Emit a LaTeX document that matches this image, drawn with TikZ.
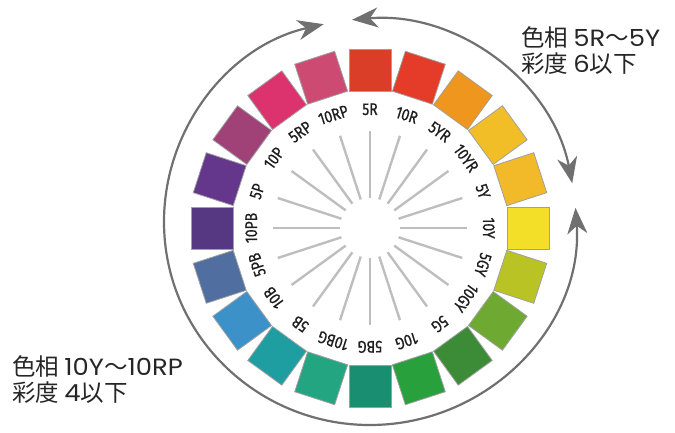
\documentclass[tikz,border=0pt]{standalone}
\usepackage{fontspec}
\usepackage{tikz}
\usetikzlibrary{arrows.meta}
\newfontfamily\jpfont{Noto Sans CJK JP}
\newfontfamily\latfont[FakeStretch=1.1]{Poppins}
\newfontfamily\huefont[FakeStretch=0.82,FakeBold=0.6]{Fira Sans}
\definecolor{arcgray}{RGB}{112,112,112}
\definecolor{spokegray}{RGB}{190,190,190}
\definecolor{edgegray}{RGB}{160,160,160}
\definecolor{labelgray}{RGB}{30,30,30}
\definecolor{h5R}{RGB}{218,62,40}
\definecolor{h10R}{RGB}{228,60,40}
\definecolor{h5YR}{RGB}{238,150,30}
\definecolor{h10YR}{RGB}{242,190,40}
\definecolor{h5Y}{RGB}{242,185,40}
\definecolor{h10Y}{RGB}{243,222,40}
\definecolor{h5GY}{RGB}{185,195,35}
\definecolor{h10GY}{RGB}{110,170,50}
\definecolor{h5G}{RGB}{60,140,55}
\definecolor{h10G}{RGB}{40,160,60}
\definecolor{h5BG}{RGB}{25,142,112}
\definecolor{h10BG}{RGB}{35,165,130}
\definecolor{h5B}{RGB}{30,158,160}
\definecolor{h10B}{RGB}{60,145,200}
\definecolor{h5PB}{RGB}{80,110,160}
\definecolor{h10PB}{RGB}{85,55,130}
\definecolor{h5P}{RGB}{100,55,140}
\definecolor{h10P}{RGB}{160,65,120}
\definecolor{h5RP}{RGB}{220,50,110}
\definecolor{h10RP}{RGB}{205,75,115}
\tikzset{
  swatch/.style={rectangle,draw=edgegray,line width=0.8pt,minimum size=42pt,inner sep=0pt},
  huelbl/.style={font=\huefont\fontsize{17}{17}\selectfont,text=labelgray,inner sep=0pt,
                 text height=12pt,text depth=0pt},
  spoke/.style={draw=spokegray,line width=2.4pt},
  spanarrow/.style={{Stealth[length=26pt,width=20pt,inset=8pt]}-{Stealth[length=26pt,width=20pt,inset=8pt]},
                draw=arcgray,line width=2.2pt},
  note/.style={font=\jpfont\fontsize{23.5}{26}\selectfont,align=left,anchor=west,inner sep=0pt,text=black!85},
}

\begin{document}
\begin{tikzpicture}[x=1pt,y=1pt]
  \useasboundingbox (0,0) rectangle (675,432);
  \coordinate (wc) at (370,204);
  \coordinate (ac) at (370,210);
  % hue wheel
  \begin{scope}[shift={(wc)}]
    \foreach \h [count=\i from 0] in {5R,10R,5YR,10YR,5Y,10Y,5GY,10GY,5G,10G,5BG,10BG,5B,10B,5PB,10PB,5P,10P,5RP,10RP} {
      \pgfmathsetmacro\a{90-18*\i}
      \node[swatch,fill=h\h,rotate=\a-90] (sq\h) at (\a:158) {};
      \node[huelbl,rotate=\a-90] (lb\h) at (\a:119) {\h};
      \draw[spoke] (\a:30) -- (\a:97);
    }
  \end{scope}
  % ranges
  \draw[spanarrow] ([shift={(95:206 and 203)}]ac) arc[start angle=95,end angle=11,x radius=206,y radius=203];
  \draw[spanarrow] ([shift={(4:206 and 203)}]ac) arc[start angle=4,end angle=-257,x radius=206,y radius=203];
  \node[note] (noteA) at (521,381) {色相 {\latfont 5R}～{\latfont 5Y}\\彩度 {\latfont 6}以下};
  \node[note] (noteB) at (12,52) {色相 {\latfont 10Y}～{\latfont 10RP}\\彩度 {\latfont 4}以下};
\end{tikzpicture}
\end{document}
